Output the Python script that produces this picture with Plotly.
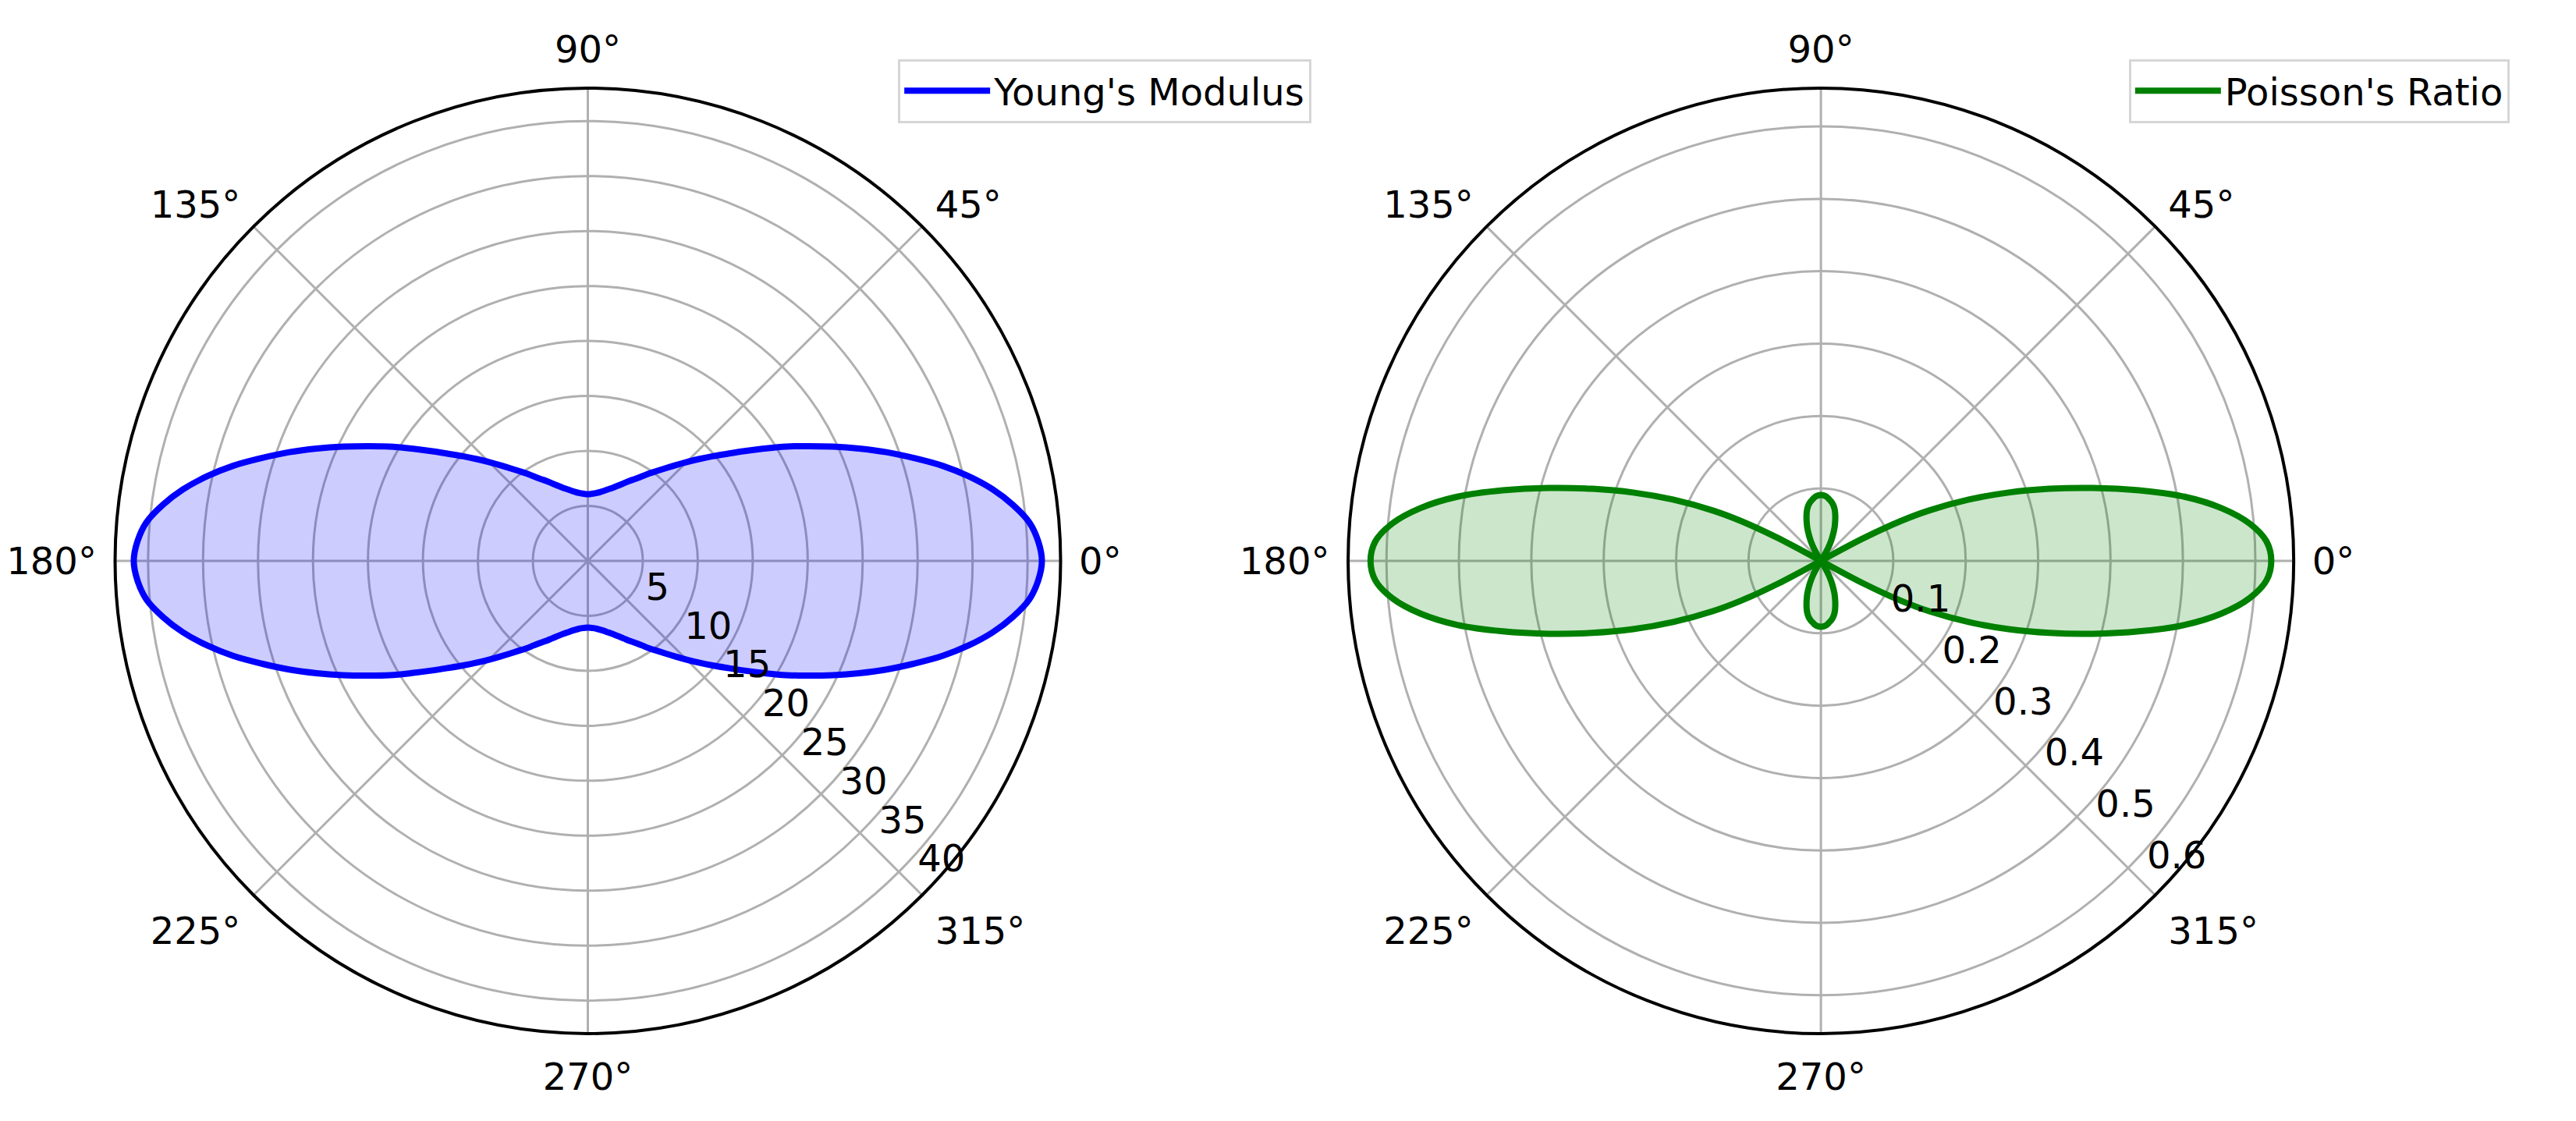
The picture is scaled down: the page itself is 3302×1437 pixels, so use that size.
import plotly.graph_objects as go

# Young's modulus, first quadrant (curve is symmetric)
e_theta_q = [0, 2.5, 5, 7.5, 10, 12.5, 15, 17.5, 20, 22.5, 25, 27.5, 30, 32.5,
             35, 37.5, 40, 42.5, 45, 47.5, 50, 52.5, 55, 57.5, 60, 62.5, 65,
             67.5, 70, 72.5, 75, 77.5, 80, 82.5, 85, 87.5, 90]
e_q = [41.3, 41.0, 40.3, 39.0, 37.4, 35.5, 33.4, 31.1, 28.9, 26.7, 24.6, 22.6,
       20.8, 19.0, 17.4, 16.0, 14.8, 13.7, 12.7, 11.8, 11.0, 10.3, 9.7, 9.1,
       8.6, 8.2, 7.8, 7.45, 7.15, 6.9, 6.7, 6.5, 6.35, 6.23, 6.15, 6.09, 6.07]

# Poisson's ratio, first quadrant
nu_theta_q = [0, 2.5, 5, 7.5, 10, 12.5, 15, 17.5, 20, 22.5, 25, 26.5, 28, 29.3,
              58.5, 59.5, 61, 63, 65, 67.5, 70, 72.5, 75, 77.5, 80, 82.5, 85,
              87.5, 90]
nu_q = [0.622, 0.616, 0.594, 0.558, 0.510, 0.450, 0.389, 0.331, 0.276, 0.221,
        0.164, 0.123, 0.066, 0.0, 0.0, 0.012, 0.022, 0.031, 0.039, 0.049,
        0.0575, 0.066, 0.0735, 0.079, 0.083, 0.086, 0.089, 0.0905, 0.091]

e_ticks = [5, 10, 15, 20, 25, 30, 35, 40]
nu_ticks = [0.1, 0.2, 0.3, 0.4, 0.5, 0.6]
ang_ticks = [0, 45, 90, 135, 180, 225, 270, 315]


def full_circle(th_q, r_q):
    # mirror the quadrant into all four
    th = (list(th_q)
          + [180 - t for t in reversed(th_q[:-1])]
          + [180 + t for t in th_q[1:]]
          + [360 - t for t in reversed(th_q[:-1])])
    r = list(r_q) + r_q[-2::-1] + r_q[1:] + r_q[-2::-1]
    return th, r


def start_at(th, r, angle):
    # start the closed path elsewhere so the spline has no corner at 0 deg
    k = th.index(angle)
    return th[k:] + th[1:k + 1], r[k:] + r[1:k + 1]


e_th, e_r = start_at(*full_circle(e_theta_q, e_q), 90)
nu_th, nu_r = start_at(*full_circle(nu_theta_q, nu_q), 29.3)

FONT = "DejaVu Sans"
GRID = "#b0b0b0"

fig = go.Figure()

fig.add_trace(go.Scatterpolar(r=e_r, theta=e_th, mode="lines", fill="toself",
                              fillcolor="rgba(0,0,255,0.2)",
                              line=dict(width=0, shape="spline"),
                              showlegend=False, hoverinfo="skip",
                              subplot="polar"))
fig.add_trace(go.Scatterpolar(r=e_r, theta=e_th, mode="lines",
                              line=dict(color="blue", width=8, shape="spline"),
                              name="Young's Modulus", subplot="polar",
                              legend="legend"))
fig.add_trace(go.Scatterpolar(r=nu_r, theta=nu_th, mode="lines", fill="toself",
                              fillcolor="rgba(0,128,0,0.2)",
                              line=dict(width=0, shape="spline"),
                              showlegend=False, hoverinfo="skip",
                              subplot="polar2"))
fig.add_trace(go.Scatterpolar(r=nu_r, theta=nu_th, mode="lines",
                              line=dict(color="green", width=8, shape="spline"),
                              name="Poisson's Ratio", subplot="polar2",
                              legend="legend2"))


def polar_layout(xdom, rng, rticks):
    return dict(
        domain=dict(x=xdom, y=[0.0835, 0.927]),
        bgcolor="white",
        radialaxis=dict(range=rng, tickmode="array", tickvals=rticks,
                        angle=-45, tickangle=-45, side="counterclockwise",
                        showline=False, ticks="",
                        gridcolor=GRID, gridwidth=3,
                        tickfont=dict(family=FONT, size=48, color="black")),
        angularaxis=dict(tickmode="array", tickvals=ang_ticks,
                         ticktext=[f"{a}°" for a in ang_ticks],
                         showline=True, linecolor="black", linewidth=4,
                         gridcolor=GRID, gridwidth=3,
                         ticks="outside", ticklen=12, tickcolor="rgba(0,0,0,0)",
                         tickfont=dict(family=FONT, size=48, color="black")),
    )


legend_style = dict(
    yanchor="top", xanchor="left", y=0.953,
    bgcolor="rgba(255,255,255,0.8)", bordercolor="#d6d6d6", borderwidth=3,
    font=dict(family=FONT, size=48, color="black"),
    itemwidth=110,
)

fig.update_layout(
    width=3302, height=1437,
    margin=dict(l=0, r=0, t=0, b=0),
    paper_bgcolor="white",
    font=dict(family=FONT, size=48, color="black"),
    polar=polar_layout([0.04225, 0.4093], [0, 43.0], e_ticks),
    polar2=polar_layout([0.5209, 0.8880], [0, 0.653], nu_ticks),
    legend=dict(x=0.3462, **legend_style),
    legend2=dict(x=0.824, **legend_style),
)

fig.write_html("out.html")
